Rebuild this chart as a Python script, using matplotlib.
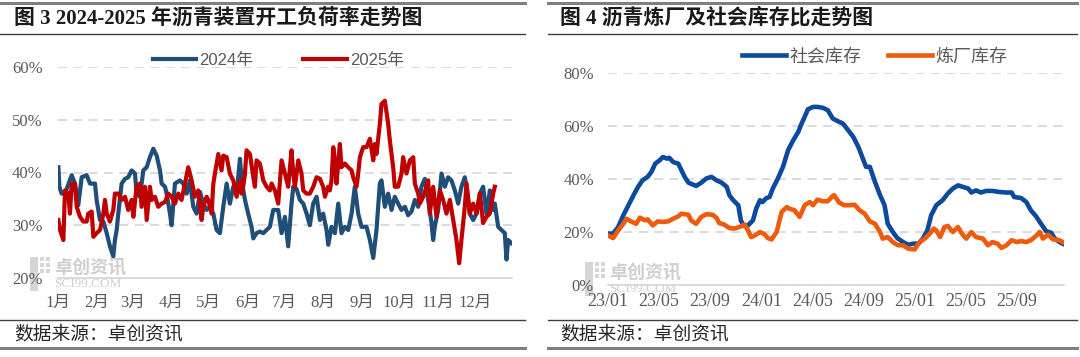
import matplotlib
matplotlib.use("Agg")
import matplotlib.pyplot as plt
from matplotlib.lines import Line2D
from matplotlib.patches import Rectangle
from matplotlib.ticker import FuncFormatter

plt.rcParams['font.family'] = ['Noto Sans CJK SC', 'DejaVu Sans']

# ---- 图3 data: day of year vs. 开工负荷率 (%) ----
day24 = [0.3, 1.1, 2.9, 5.6, 11.0, 13.6, 16.3, 19.0, 23.0, 25.7,
         29.7, 31.0, 33.7, 36.4, 39.1, 41.7, 44.4, 45.7, 47.1, 48.4,
         51.1, 53.8, 56.4, 59.1, 61.8, 63.1, 65.8, 68.5, 71.2, 73.8,
         76.5, 79.2, 81.9, 83.2, 85.9, 87.2, 89.9, 91.2, 93.9, 97.9,
         100.6, 103.3, 105.9, 108.6, 111.3, 114.0, 116.6, 119.3, 122.0, 124.7,
         127.3, 130.0, 132.7, 135.4, 138.0, 140.7, 143.4, 146.1, 147.4, 150.1,
         152.7, 155.4, 156.8, 159.4, 162.1, 164.8, 167.5, 170.1,
         172.8, 176.8, 179.5, 182.2, 184.8, 187.5, 188.9, 191.5, 194.2, 196.9,
         199.6, 202.2, 204.9, 207.6, 210.3, 212.9, 215.6, 217.0, 219.6, 222.3,
         225.0, 227.6, 230.3, 233.0, 235.7, 238.3, 241.0, 243.7, 247.7, 250.4,
         253.1, 255.7, 258.4, 259.7, 262.4, 265.1, 267.8, 270.4, 273.1, 275.8,
         278.5, 281.1, 283.8, 286.5, 289.2, 291.8, 294.5, 297.2, 299.9, 301.2,
         302.5, 305.2, 307.9, 310.6, 313.2, 315.9, 318.6, 321.3, 323.9, 326.6,
         328.0, 330.6, 333.3, 336.0, 338.7, 341.3, 344.0, 346.7, 349.4, 350.7,
         353.4, 356.0, 358.7, 360.1, 361.4, 364.1]
rate24 = [41.0, 37.3, 36.0, 36.0, 39.5, 37.9, 33.8, 39.1, 39.5, 37.9,
          37.9, 34.8, 31.0, 30.7, 28.5, 26.0, 24.1, 27.2, 29.1, 32.2,
          37.9, 38.8, 39.1, 40.4, 39.8, 36.0, 35.4, 40.4, 41.0, 42.9,
          44.5, 43.2, 40.4, 37.9, 37.3, 36.0, 32.2, 30.0, 37.9, 38.5,
          37.9, 36.0, 38.5, 33.5, 32.2, 36.3, 34.1, 32.9, 33.5, 32.2,
          29.1, 28.5, 33.5, 37.9, 34.1, 37.3, 36.0, 42.6, 38.5, 34.8,
          32.2, 29.7, 27.5, 28.5, 28.8, 28.5, 29.1, 29.7,
          32.9, 32.9, 28.5, 31.6, 26.0, 34.1, 37.3, 36.9, 34.8, 34.1,
          32.2, 30.0, 34.1, 35.4, 31.0, 32.2, 29.1, 26.3, 29.7, 28.5,
          34.1, 28.5, 29.7, 29.1, 32.2, 37.3, 32.2, 29.7, 29.7, 27.2,
          23.8, 29.1, 37.9, 38.5, 33.5, 36.0, 32.9, 35.4, 34.1, 32.9,
          33.5, 31.9, 32.6, 34.8, 33.5, 37.3, 38.8, 34.8, 30.4, 27.2,
          29.7, 32.9, 39.8, 37.3, 39.1, 38.5, 36.6, 34.1, 37.3, 39.1,
          37.3, 32.2, 31.0, 32.2, 36.0, 37.3, 32.2, 36.6, 32.9, 34.1,
          29.7, 29.1, 28.5, 23.5, 27.2, 26.6]

day25 = [0.3, 1.6, 4.3, 5.6, 8.3, 9.6, 11.0, 13.6, 15.0, 17.7,
         20.3, 23.0, 24.3, 27.0, 28.4, 31.0, 33.7, 36.4, 37.7, 39.1,
         41.7, 44.4, 45.7, 48.4, 51.1, 53.8, 56.4, 59.1, 60.5, 63.1,
         65.8, 67.1, 69.8, 71.2, 73.8, 75.2, 77.8, 80.5, 83.2, 85.9,
         88.5, 91.2, 93.9, 96.6, 99.2, 101.9, 104.6, 107.3, 109.9, 112.6,
         115.3, 116.6, 119.3, 120.6, 123.3, 124.7, 126.0, 128.7, 131.3, 132.7,
         135.4, 138.0, 140.7, 143.4, 146.1, 147.4, 148.7, 150.1, 151.4, 154.1,
         156.8, 158.1, 159.4, 162.1, 164.8, 167.5, 170.1,
         171.5, 174.1, 176.8, 179.5, 182.2, 184.8, 187.5, 188.9, 190.2, 192.9,
         195.5, 196.9, 199.6, 202.2, 204.9, 207.6, 210.3, 212.9, 214.3, 216.9,
         218.3, 219.6, 221.0, 222.3, 223.6, 226.3, 227.6, 230.3, 233.0, 235.7,
         237.0, 239.7, 241.0, 242.4, 245.0, 247.7, 250.4, 253.1, 254.4, 255.7,
         258.4, 259.7, 262.4, 265.1, 266.4, 269.1, 270.4, 273.1, 275.8, 277.1,
         279.8, 282.5, 285.2, 286.5, 289.2, 290.5, 293.2, 295.9, 297.2, 298.5,
         301.2, 303.9, 306.6, 309.2, 311.9, 314.6, 317.3, 319.9, 322.1, 323.9,
         326.6, 328.0, 330.6, 333.3, 336.0, 338.7, 341.3, 344.0, 346.7, 349.4,
         350.7]
rate25 = [31.0, 29.1, 27.2, 36.6, 36.0, 32.2, 37.9, 37.9, 33.5, 31.6,
          30.7, 30.7, 32.2, 32.6, 27.8, 28.5, 29.1, 32.2, 34.8, 32.2,
          30.7, 32.9, 36.0, 36.0, 34.8, 35.4, 32.9, 34.8, 31.6, 37.3,
          37.9, 33.5, 37.3, 31.0, 37.3, 34.8, 35.4, 33.5, 34.1, 34.4,
          36.0, 35.4, 34.1, 36.0, 34.8, 37.9, 41.0, 38.5, 35.4, 36.6,
          31.0, 33.5, 35.4, 34.8, 32.2, 37.9, 39.8, 43.5, 40.4, 43.2,
          42.9, 39.8, 38.5, 35.4, 38.5, 36.0, 37.3, 39.8, 44.2, 43.5,
          39.1, 37.3, 42.3, 41.7, 38.5, 37.3, 36.6,
          37.9, 36.6, 34.1, 42.3, 39.8, 37.3, 44.2, 39.8, 37.3, 42.3,
          39.8, 36.6, 36.0, 36.0, 37.3, 39.1, 38.8, 37.3, 35.4, 37.3,
          36.6, 38.5, 44.8, 42.3, 37.9, 45.4, 41.0, 41.7, 41.0, 40.4,
          39.1, 37.3, 39.8, 42.9, 44.8, 44.8, 46.4, 42.3, 45.4, 43.5,
          49.2, 53.0, 53.6, 49.2, 46.1, 41.0, 37.3, 37.3, 39.8, 42.9,
          39.8, 42.3, 42.9, 37.9, 36.0, 34.1, 35.4, 37.3, 38.5, 32.2,
          37.3, 31.6, 36.6, 34.8, 32.2, 34.8, 31.0, 27.2, 22.8, 27.2,
          33.5, 37.9, 32.2, 34.1, 32.2, 36.0, 30.4, 31.6, 32.2, 36.0,
          37.3]

month_days = [0, 31, 60, 91, 121, 152, 182, 213, 244, 274, 305, 335]
month_labels = ['1月', '2月', '3月', '4月', '5月', '6月',
                '7月', '8月', '9月', '10月', '11月', '12月']

# ---- 图4 data: months since 2023-01 vs. 库容比 (%) ----
soc_m = [0.0, 0.4, 0.8, 1.2, 1.6, 2.0, 2.35, 2.7, 3.1, 3.4,
         3.7, 4.05, 4.3, 4.6, 4.8, 5.1, 5.5, 5.75, 6.0, 6.3,
         6.65, 6.9, 7.3, 7.7, 8.1, 8.5, 8.9, 9.3, 9.5, 9.8,
         10.2, 10.4, 10.6, 10.96, 11.35, 11.6, 11.9, 12.1, 12.4, 12.65,
         12.9, 13.3, 13.7, 14.1, 14.5, 14.9, 15.1, 15.4, 15.65, 16.05,
         16.4, 16.8, 17.2, 17.6,
         18.0, 18.4, 18.8, 19.2, 19.6, 20.0, 20.2, 20.5, 20.9, 21.3,
         21.65, 21.9, 22.3, 22.65, 23.1, 23.5, 23.9, 24.3, 24.65, 25.0,
         25.3, 25.7, 26.2, 26.6, 27.0, 27.4, 27.8, 28.2, 28.45, 28.8,
         29.2, 29.6, 30.1, 30.65, 31.2, 31.6, 31.8, 32.35, 32.75, 33.1,
         33.5, 33.9, 34.3, 34.7, 34.95, 35.35, 35.6]
soc_v = [19.4, 19.4, 21.9, 26.3, 30.1, 33.9, 37.0, 39.5, 40.8, 42.7,
         45.8, 47.1, 48.3, 47.7, 48.0, 46.4, 45.8, 43.3, 40.8, 38.6,
         37.9, 37.4, 38.6, 40.2, 40.8, 39.5, 38.6, 37.0, 33.9, 32.0,
         30.1, 24.4, 22.5, 22.5, 24.4, 28.8, 32.0, 31.3, 32.8, 33.2,
         36.4, 40.2, 44.6, 50.9, 54.6, 57.8, 60.3, 63.5, 66.3, 67.2,
         67.2, 66.9, 66.0, 62.8,
         61.8, 60.9, 58.4, 55.9, 52.1, 47.1, 44.6, 44.6, 38.9, 33.9,
         30.1, 23.1, 20.0, 17.7, 16.2, 15.2, 15.6, 15.6, 17.5, 20.6,
         26.3, 30.1, 32.0, 34.5, 36.4, 37.6, 37.0, 36.4, 34.9, 35.7,
         34.9, 35.5, 35.5, 35.1, 34.9, 34.9, 33.2, 32.8, 31.3, 28.2,
         26.0, 23.1, 20.3, 19.7, 17.7, 16.2, 15.6]

ref_m = [0.0, 0.4, 0.8, 1.2, 1.45, 1.8, 2.2, 2.5, 2.9, 3.1,
         3.5, 3.9, 4.3, 4.7, 5.1, 5.5, 5.75, 6.3, 6.5, 6.9,
         7.3, 7.7, 8.2, 8.5, 8.7, 9.1, 9.5, 9.9, 10.3, 10.7,
         10.96, 11.2, 11.5, 11.9, 12.3, 12.5, 12.8, 13.2, 13.6, 14.0,
         14.2, 14.6, 15.0, 15.4, 15.8, 16.05, 16.4, 16.8, 17.2, 17.6,
         17.7, 18.1, 18.5, 18.9, 19.3, 19.7, 20.1, 20.5, 20.9, 21.3,
         21.5, 21.9, 22.3, 22.7, 23.1, 23.5, 24.0, 24.4, 24.8, 25.2,
         25.5, 25.7, 26.0, 26.35, 26.6, 27.0, 27.4, 27.7, 28.05, 28.45,
         28.8, 29.35, 29.75, 30.1, 30.5, 30.8, 31.2, 31.6, 32.0, 32.35,
         32.75, 33.1, 33.55, 33.8, 34.05, 34.45, 34.85, 35.35, 35.6]
ref_v = [18.7, 17.7, 20.6, 23.1, 25.0, 24.0, 23.1, 25.4, 24.4, 24.8,
         22.5, 24.0, 23.8, 24.0, 25.0, 25.9, 26.9, 26.5, 24.4, 23.1,
         25.7, 26.7, 26.5, 25.3, 23.4, 22.8, 21.5, 21.3, 21.9, 22.8,
         20.6, 18.1, 18.7, 20.0, 19.0, 17.7, 17.2, 20.0, 27.6, 29.4,
         28.8, 28.2, 25.7, 30.1, 31.3, 30.1, 32.2, 31.6, 31.6, 33.6,
         33.9, 31.1, 30.1, 30.1, 30.3, 28.2, 26.9, 24.0, 23.1, 20.0,
         17.5, 18.1, 16.2, 15.0, 15.0, 13.7, 13.4, 16.2, 17.5, 19.4,
         21.3, 20.6, 18.1, 21.9, 22.3, 20.0, 21.9, 19.4, 17.5, 20.0,
         18.1, 17.5, 15.0, 16.2, 15.6, 14.0, 15.0, 16.9, 16.2, 16.6,
         16.2, 16.9, 18.7, 20.0, 17.5, 19.0, 17.2, 16.9, 16.2]

ym_ticks = [0, 4, 8, 12, 16, 20, 24, 28, 32]
ym_labels = ['23/01', '23/05', '23/09', '24/01', '24/05',
             '24/09', '25/01', '25/05', '25/09']

W, H = 1080, 357
GRAY_TXT = '#595959'
GRID = '#D9D9D9'
NUM_FONT = ['Liberation Serif', 'Noto Sans CJK SC']
LEG_FONT = ['Liberation Sans', 'Noto Sans CJK SC']

fig = plt.figure(figsize=(W / 100, H / 100), dpi=100)


def fx(px):
    return px / W


def fy(py):
    return 1 - py / H


def style_axes(ax, ylim, yticks):
    ax.patch.set_alpha(0)  # let the watermark show behind the plot
    ax.set_ylim(*ylim)
    ax.set_yticks(yticks)
    ax.yaxis.set_major_formatter(FuncFormatter(lambda v, p: '{:.0f}%'.format(v)))
    ax.grid(axis='y', color=GRID, linestyle=(0, (5, 3.5)), linewidth=1.3)
    ax.set_axisbelow(True)
    for s in ['top', 'right', 'left']:
        ax.spines[s].set_visible(False)
    ax.spines['bottom'].set_color(GRID)
    ax.spines['bottom'].set_linewidth(1.3)
    ax.tick_params(length=0, colors=GRAY_TXT)
    for lab in ax.get_yticklabels():
        lab.set_family(NUM_FONT)
        lab.set_fontsize(12)


def frame(x0, x1, title, tx):
    # header and footer rules like the report template
    fig.add_artist(Line2D([fx(x0), fx(x1)], [fy(3), fy(3)], color='#7F7F7F', lw=2.2))
    fig.add_artist(Line2D([fx(x0), fx(x1)], [fy(34), fy(34)], color='#404040', lw=1.0))
    fig.add_artist(Line2D([fx(x0), fx(x1)], [fy(320), fy(320)], color='#404040', lw=1.0))
    fig.add_artist(Line2D([fx(x0), fx(x1)], [fy(348), fy(348)], color='#7F7F7F', lw=2.2))
    fig.text(fx(tx), fy(18), title, fontsize=15, fontweight='bold', color='#1A1A1A',
             family=NUM_FONT, va='center', ha='left')
    fig.text(fx(tx), fy(334), '数据来源：卓创资讯', fontsize=13.5, color='#262626',
             family=['Noto Sans CJK SC'], va='center', ha='left')


def watermark(x, y):
    fig.add_artist(Rectangle((fx(x), fy(y + 34)), fx(8), 34 / H, color='#D6D6D6',
                             lw=0, zorder=-1))
    for i in range(3):
        for j in range(2):
            fig.add_artist(Rectangle((fx(x + 10 + j * 6), fy(y + 4 + i * 6)), fx(4), 4 / H,
                                     color='#D6D6D6', lw=0, zorder=-1))
    fig.text(fx(x + 24), fy(y + 10), '卓创资讯', fontsize=13, color='#CFCFCF',
             family=['Noto Sans CJK SC'], va='center', ha='left', fontweight='bold',
             zorder=-1)
    fig.text(fx(x + 24), fy(y + 27), 'SCI99.COM', fontsize=9.5, color='#CFCFCF',
             family=['Liberation Serif'], va='center', ha='left', zorder=-1)


# ---------- left chart ----------
frame(0, 525, '图 3 2024-2025 年沥青装置开工负荷率走势图', 14)
ax1 = fig.add_axes([fx(58), fy(278), fx(454), (278 - 67) / H])
watermark(30, 257)
ax1.plot(day24, rate24, color='#1F4E79', lw=3.0, label='2024年', solid_joinstyle='round')
ax1.plot(day25, rate25, color='#C00000', lw=3.0, label='2025年', solid_joinstyle='round')
ax1.set_xlim(0, 364.5)
style_axes(ax1, (20, 60), [20, 30, 40, 50, 60])
ax1.set_xticks(month_days)
ax1.set_xticklabels(month_labels, family=NUM_FONT, fontsize=12)
ax1.tick_params(axis='x', pad=12)
ax1.tick_params(axis='y', pad=11)
leg1 = ax1.legend(loc='center', bbox_to_anchor=(0.485, 1.03), ncol=2, frameon=False,
                  handlelength=2.6, handletextpad=0.2, columnspacing=3.0,
                  prop={'family': LEG_FONT, 'size': 12})
for t in leg1.get_texts():
    t.set_color(GRAY_TXT)

# ---------- right chart ----------
frame(548, 1077, '图 4 沥青炼厂及社会库存比走势图', 560)
ax2 = fig.add_axes([fx(608), fy(285), fx(456), (285 - 73) / H])
watermark(585, 262)
ax2.plot(soc_m, soc_v, color='#0B4A9C', lw=3.3, label='社会库存', solid_joinstyle='round')
ax2.plot(ref_m, ref_v, color='#EE5B0C', lw=3.3, label='炼厂库存', solid_joinstyle='round')
ax2.set_xlim(0, 35.7)
style_axes(ax2, (0, 80), [0, 20, 40, 60, 80])
ax2.set_xticks(ym_ticks)
ax2.set_xticklabels(ym_labels, family=NUM_FONT, fontsize=13)
ax2.tick_params(axis='x', pad=6)
ax2.tick_params(axis='y', pad=10)
leg2 = ax2.legend(loc='center', bbox_to_anchor=(0.585, 1.076), ncol=2, frameon=False,
                  handlelength=2.4, handletextpad=0.2, columnspacing=1.5,
                  prop={'family': LEG_FONT, 'size': 13})
for t in leg2.get_texts():
    t.set_color(GRAY_TXT)

fig.savefig('out.png', dpi=100)
